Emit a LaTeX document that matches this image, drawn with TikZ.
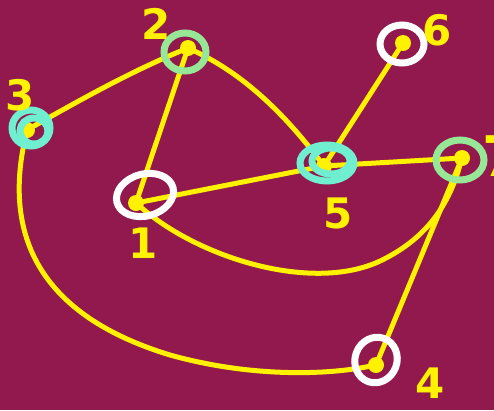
\documentclass[tikz,border=0pt]{standalone}
\usepackage{fontspec}
\setsansfont{DejaVu Sans}

\definecolor{fond}{RGB}{146,25,78}
\definecolor{jaune}{RGB}{255,242,0}
\definecolor{vert}{RGB}{150,232,150}
\definecolor{turquoise}{RGB}{112,238,208}

\begin{document}
\begin{tikzpicture}[x=1pt,y=-1pt,
    arete/.style={line width=5pt, jaune, line cap=round},
    sommet/.style={circle, fill=jaune, inner sep=0pt, minimum size=16pt},
    anneau/.style={line width=7pt},
    etiquette/.style={jaune, font=\sffamily\bfseries\fontsize{42}{42}\selectfont, inner sep=0pt}]
    % Fond
    \fill[fond] (0,0) rectangle (494,410);
    \useasboundingbox (0,0) rectangle (494,410);

    % Sommets
    \foreach \nom/\x/\y in {1/136/203, 2/188/48, 3/27/130, 4/376/365, 5/324/166, 6/403/43, 7/462/158} {
        \node[sommet] (s\nom) at (\x,\y) {};
    }

    % Aretes
    \draw[arete] (s3) .. controls (80,100) and (130,72) .. (s2);
    \draw[arete] (s2) -- (s1);
    \draw[arete] (s2) .. controls (245,75) and (285,115) .. (s5);
    \draw[arete] (s1) -- (s5);
    \draw[arete] (s5) -- (s6);
    \draw[arete] (s5) -- (s7);
    \draw[arete] (s7) -- (s4);
    \draw[arete] (s1) .. controls (200,258) and (310,292) .. (378,262) .. controls (430,238) and (450,200) .. (s7);
    \draw[arete] (s3) .. controls (0,250) and (55,320) .. (170,355) .. controls (245,376) and (320,376) .. (s4);

    % Cercles
    \draw[anneau, white, rotate around={15:(145,195)}] (145,195) ellipse (29 and 21);
    \draw[anneau, vert] (185,52) ellipse (21 and 19);
    \draw[anneau, turquoise] (31,128) ellipse (19 and 18);
    \draw[anneau, turquoise] (34,131) ellipse (14 and 13);
    \draw[anneau, white, rotate around={70:(376,360)}] (376,360) ellipse (23 and 21);
    \draw[anneau, turquoise] (327,163) ellipse (27 and 18);
    \draw[anneau, turquoise] (331,161) ellipse (19 and 13);
    \draw[anneau, white] (402,44) ellipse (22 and 19);
    \draw[anneau, vert] (460,160) ellipse (24 and 20);

    % Etiquettes
    \foreach \nom/\x/\y in {1/143/243, 2/156/24, 3/20/95, 4/430/383, 5/338/213, 6/437/30} {
        \node[etiquette] (e\nom) at (\x,\y) {\nom};
    }
    \node[etiquette, anchor=north west, font=\sffamily\bfseries\fontsize{56}{56}\selectfont] (e7) at (482,135) {7};
\end{tikzpicture}
\end{document}
